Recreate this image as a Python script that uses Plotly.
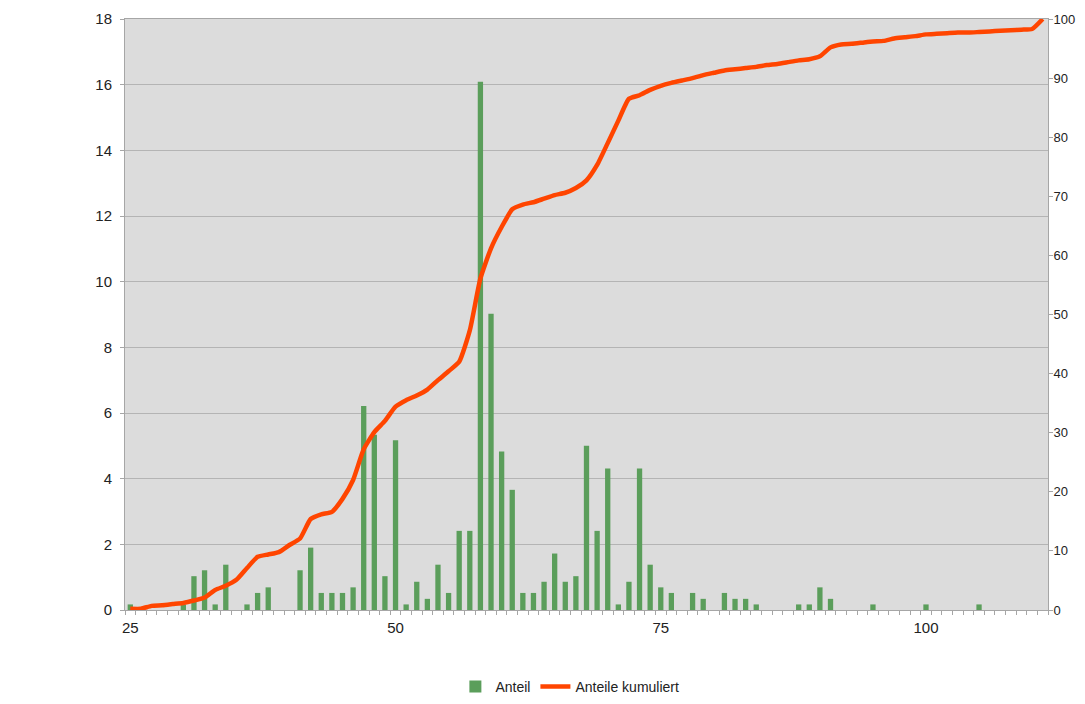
import plotly.graph_objects as go

categories = list(range(25, 112))

anteil = [
    0.17, 0, 0, 0, 0, 0.17, 1.03, 1.21, 0.17, 1.38,      # 25-34
    0, 0.17, 0.52, 0.69, 0, 0, 1.21, 1.90, 0.52, 0.52,   # 35-44
    0.52, 0.69, 6.21, 5.34, 1.03, 5.17, 0.17, 0.86, 0.34, 1.38,  # 45-54
    0.52, 2.41, 2.41, 16.09, 9.02, 4.83, 3.66, 0.52, 0.52, 0.86,  # 55-64
    1.72, 0.86, 1.03, 5.00, 2.41, 4.31, 0.17, 0.86, 4.31, 1.38,  # 65-74
    0.69, 0.52, 0, 0.52, 0.34, 0, 0.52, 0.34, 0.34, 0.17,  # 75-84
    0, 0, 0, 0.17, 0.17, 0.69, 0.34, 0, 0, 0,              # 85-94
    0.17, 0, 0, 0, 0, 0.17, 0, 0, 0, 0,                    # 95-104
    0.17, 0, 0, 0, 0, 0, 0,                                # 105-111
]

kumuliert = [
    0.2, 0.2, 0.7, 0.8, 1.0, 1.2, 1.6, 2.1, 3.4, 4.1,        # 25-34
    5.1, 7.1, 9.0, 9.4, 9.8, 11.0, 12.1, 15.4, 16.2, 16.6,   # 35-44
    18.8, 22.0, 27.2, 30.1, 32.0, 34.4, 35.5, 36.3, 37.3, 38.9,  # 45-54
    40.4, 42.0, 47.3, 56.1, 61.2, 64.8, 67.8, 68.6, 69.0, 69.6,  # 55-64
    70.2, 70.6, 71.4, 72.7, 75.3, 79.0, 82.8, 86.5, 87.1, 88.0,  # 65-74
    88.7, 89.2, 89.6, 90.0, 90.5, 90.9, 91.3, 91.5, 91.7, 91.9,  # 75-84
    92.2, 92.4, 92.7, 93.0, 93.2, 93.7, 95.2, 95.7, 95.8, 96.0,  # 85-94
    96.2, 96.3, 96.7, 96.9, 97.1, 97.4, 97.5, 97.6, 97.7, 97.7,  # 95-104
    97.8, 97.9, 98.0, 98.1, 98.2, 98.3, 100.0,                  # 105-111
]

x_ticks = [25, 50, 75, 100]
left_ticks = list(range(0, 19, 2))
right_ticks = list(range(0, 101, 10))

BAR_COLOR = "#5B9E5B"
LINE_COLOR = "#FF4500"
AXIS_COLOR = "#A6A6A6"
FONT = "Liberation Sans, Arial, sans-serif"

fig = go.Figure()
fig.add_trace(go.Bar(
    x=categories, y=anteil, name="Anteil",
    marker=dict(color=BAR_COLOR, line=dict(width=0)),
    width=0.5,
))
fig.add_trace(go.Scatter(
    x=categories, y=kumuliert, name="Anteile kumuliert",
    mode="lines", yaxis="y2",
    line=dict(color=LINE_COLOR, width=4.5, shape="spline", smoothing=0.5),
))

# page body adds an 8px margin; figure offset accordingly
fig.update_layout(
    width=1077, height=688,
    margin=dict(l=117, r=37, t=11, b=86, autoexpand=False),
    paper_bgcolor="white",
    plot_bgcolor="#DCDCDC",
    font=dict(family=FONT, size=15, color="#222222"),
    showlegend=True,
    legend=dict(
        orientation="h", x=0.482, xanchor="center", y=-0.130, yanchor="middle",
        font=dict(family=FONT, size=14, color="#222222"),
        bgcolor="rgba(0,0,0,0)",
    ),
    xaxis=dict(
        range=[24.5, 111.5], automargin=False,
        tickmode="array", tickvals=x_ticks, ticktext=[str(v) for v in x_ticks],
        ticks="", showgrid=False, zeroline=False,
        showline=True, linecolor=AXIS_COLOR, linewidth=1, mirror=True,
        ticklabelstandoff=4,
        minor=dict(ticks="outside", tick0=24.5, dtick=1, ticklen=4,
                   tickcolor=AXIS_COLOR, showgrid=False),
    ),
    yaxis=dict(
        range=[0, 18], tickvals=left_ticks, automargin=False,
        showgrid=True, gridcolor="#B4B4B4", gridwidth=1,
        zeroline=False,
        showline=True, linecolor=AXIS_COLOR, linewidth=1,
        ticks="outside", ticklen=4, tickcolor=AXIS_COLOR,
        ticklabelstandoff=5,
    ),
    yaxis2=dict(
        range=[0, 100], tickvals=right_ticks, automargin=False,
        overlaying="y", side="right",
        showgrid=False, zeroline=False,
        showline=True, linecolor=AXIS_COLOR, linewidth=1,
        ticks="outside", ticklen=4, tickcolor=AXIS_COLOR,
        ticklabelstandoff=-2,
        tickfont=dict(family=FONT, size=13, color="#222222"),
    ),
)

fig.write_html("out.html")
